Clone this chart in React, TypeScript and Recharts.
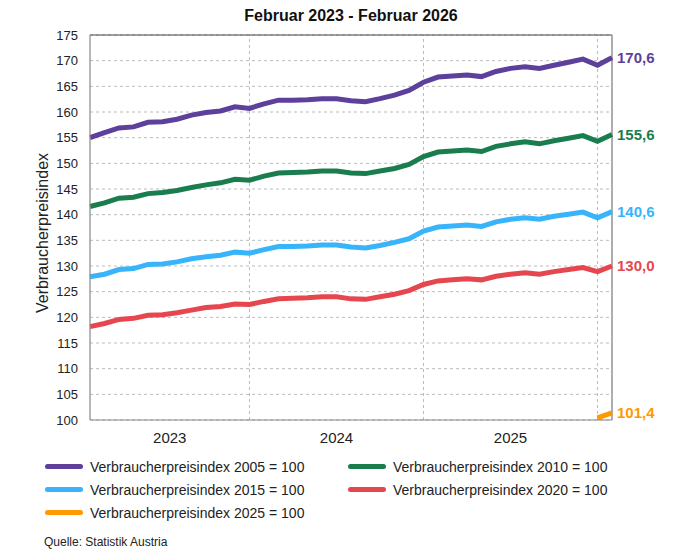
import React from 'react';
import {
  LineChart,
  Line,
  XAxis,
  YAxis,
  CartesianGrid,
  ReferenceLine,
} from 'recharts';

// Feb 2023 .. Feb 2026, 37 months
const months = [
  '2023-02', '2023-03', '2023-04', '2023-05', '2023-06', '2023-07', '2023-08', '2023-09', '2023-10', '2023-11', '2023-12',
  '2024-01', '2024-02', '2024-03', '2024-04', '2024-05', '2024-06', '2024-07', '2024-08', '2024-09', '2024-10', '2024-11', '2024-12',
  '2025-01', '2025-02', '2025-03', '2025-04', '2025-05', '2025-06', '2025-07', '2025-08', '2025-09', '2025-10', '2025-11', '2025-12',
  '2026-01', '2026-02',
];

const vpi2005 = [
  155.0, 156.0, 156.9, 157.1, 158.0, 158.1, 158.6, 159.4, 159.9, 160.2, 161.0,
  160.7, 161.6, 162.3, 162.3, 162.4, 162.6, 162.6, 162.2, 162.0, 162.6, 163.3, 164.2,
  165.8, 166.8, 167.0, 167.2, 166.9, 167.9, 168.5, 168.8, 168.5, 169.1, 169.7, 170.3,
  169.1, 170.6,
];
const vpi2010 = [
  141.6, 142.3, 143.2, 143.4, 144.1, 144.3, 144.7, 145.3, 145.8, 146.2, 146.9,
  146.7, 147.5, 148.1, 148.2, 148.3, 148.5, 148.5, 148.1, 148.0, 148.5, 149.0, 149.8,
  151.3, 152.2, 152.4, 152.6, 152.3, 153.3, 153.8, 154.2, 153.8, 154.4, 154.9, 155.4,
  154.3, 155.6,
];
const vpi2015 = [
  127.9, 128.4, 129.3, 129.5, 130.3, 130.4, 130.8, 131.4, 131.8, 132.1, 132.7,
  132.5, 133.2, 133.8, 133.8, 133.9, 134.1, 134.1, 133.7, 133.5, 134.0, 134.6, 135.3,
  136.8, 137.6, 137.8, 138.0, 137.7, 138.6, 139.1, 139.4, 139.1, 139.7, 140.1, 140.5,
  139.4, 140.6,
];
const vpi2020 = [
  118.2, 118.8, 119.6, 119.8, 120.4, 120.5, 120.9, 121.4, 121.9, 122.1, 122.6,
  122.5, 123.1, 123.6, 123.7, 123.8, 124.0, 124.0, 123.6, 123.5, 124.0, 124.5, 125.2,
  126.4, 127.1, 127.3, 127.5, 127.3, 128.0, 128.4, 128.7, 128.4, 128.9, 129.3, 129.7,
  128.9, 130.0,
];
const vpi2025: (number | null)[] = months.map((m) =>
  m === '2026-01' ? 100.4 : m === '2026-02' ? 101.4 : null
);

const yTicks = [100, 105, 110, 115, 120, 125, 130, 135, 140, 145, 150, 155, 160, 165, 170, 175];
const yearTicks = [5.5, 17, 29];
const yearLabels = ['2023', '2024', '2025'];
const yearStarts = [11, 23, 35];

const series = [
  { key: 'v2005', name: 'Verbraucherpreisindex 2005 = 100', color: '#5d3f9c' },
  { key: 'v2010', name: 'Verbraucherpreisindex 2010 = 100', color: '#1a7d4e' },
  { key: 'v2015', name: 'Verbraucherpreisindex 2015 = 100', color: '#38b4fb' },
  { key: 'v2020', name: 'Verbraucherpreisindex 2020 = 100', color: '#e6474f' },
  { key: 'v2025', name: 'Verbraucherpreisindex 2025 = 100', color: '#ff9900' },
];

const data = months.map((m, i) => ({
  i,
  month: m,
  v2005: vpi2005[i],
  v2010: vpi2010[i],
  v2015: vpi2015[i],
  v2020: vpi2020[i],
  v2025: vpi2025[i],
}));

const FONT = '"Liberation Sans", Arial, sans-serif';

const endLabel = (color: string) => (props: any) => {
  const { x, y, index, value } = props;
  if (index !== months.length - 1 || value == null) return null;
  return (
    <text
      x={x + 5}
      y={y}
      dy={5}
      fill={color}
      fontSize={15}
      fontWeight={600}
      fontFamily={FONT}
    >
      {Number(value).toFixed(1).replace('.', ',')}
    </text>
  );
};

const LegendItem = ({ name, color }: { name: string; color: string }) => (
  <div style={{ display: 'flex', alignItems: 'center', height: 23 }}>
    <div
      style={{
        width: 38,
        height: 5,
        borderRadius: 3,
        background: color,
        marginRight: 7,
      }}
    />
    <span style={{ fontSize: 14, color: '#222' }}>{name}</span>
  </div>
);

export default function App() {
  return (
    <div
      style={{
        position: 'absolute',
        left: 0,
        top: 0,
        width: 682,
        height: 553,
        background: '#fff',
        fontFamily: FONT,
      }}
    >
      <div
        style={{
          position: 'absolute',
          left: 90,
          width: 522,
          top: 7,
          textAlign: 'center',
          fontSize: 16,
          fontWeight: 700,
          color: '#111',
        }}
      >
        Februar 2023 - Februar 2026
      </div>
      <div
        style={{
          position: 'absolute',
          left: 43,
          top: 233,
          transform: 'translate(-50%, -50%) rotate(-90deg)',
          fontSize: 16,
          color: '#222',
          whiteSpace: 'nowrap',
        }}
      >
        Verbraucherpreisindex
      </div>
      <LineChart
        width={682}
        height={450}
        data={data}
        margin={{ top: 35, right: 70, bottom: 0, left: 40 }}
        style={{ position: 'absolute', left: 0, top: 0 }}
      >
        <CartesianGrid
          vertical={false}
          stroke="#bbb"
          strokeDasharray="3 3"
        />
        {yearStarts.map((x) => (
          <ReferenceLine key={x} x={x} stroke="#bbb" strokeDasharray="3 3" />
        ))}
        <ReferenceLine y={175} stroke="#444" strokeWidth={1.2} />
        <ReferenceLine x={36} stroke="#777" strokeWidth={1.2} />
        <XAxis
          type="number"
          dataKey="i"
          domain={[0, 36]}
          ticks={yearTicks}
          tickFormatter={(v: number) => yearLabels[yearTicks.indexOf(v)]}
          tickLine={false}
          axisLine={{ stroke: '#888', strokeWidth: 1.2 }}
          height={30}
          tick={{ fontSize: 15, fill: '#222', fontFamily: FONT }}
          tickMargin={6}
        />
        <YAxis
          type="number"
          domain={[100, 175]}
          ticks={yTicks}
          interval={0}
          tickLine={false}
          axisLine={{ stroke: '#888', strokeWidth: 1.2 }}
          width={50}
          tick={{ fontSize: 13, fill: '#222', fontFamily: FONT }}
          tickMargin={6}
        />
        {series.map((s) => (
          <Line
            key={s.key}
            type="linear"
            dataKey={s.key}
            stroke={s.color}
            strokeWidth={5}
            dot={false}
            isAnimationActive={false}
            connectNulls={false}
            label={endLabel(s.color)}
          />
        ))}
      </LineChart>
      <div
        style={{
          position: 'absolute',
          left: 45,
          top: 455,
          display: 'grid',
          gridTemplateColumns: '303px 300px',
        }}
      >
        {series.map((s) => (
          <LegendItem key={s.key} name={s.name} color={s.color} />
        ))}
      </div>
      <div
        style={{
          position: 'absolute',
          left: 44,
          top: 535,
          fontSize: 12,
          color: '#222',
        }}
      >
        Quelle: Statistik Austria
      </div>
    </div>
  );
}
